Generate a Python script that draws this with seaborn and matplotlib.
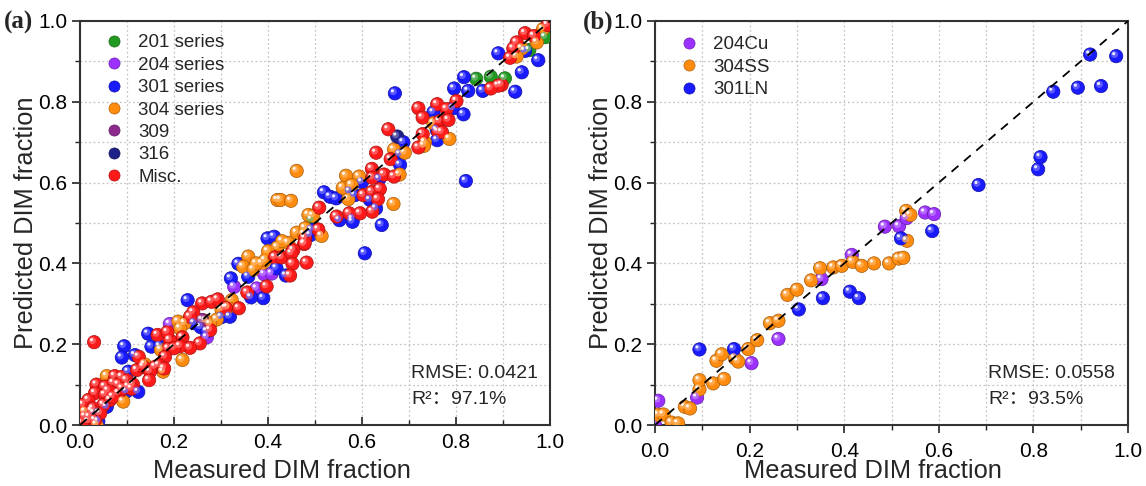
import numpy as np
import pandas as pd
import matplotlib
matplotlib.use("Agg")
import matplotlib.pyplot as plt
import matplotlib.transforms as mtransforms
from matplotlib.colors import to_rgb
from matplotlib.lines import Line2D
from matplotlib.ticker import MultipleLocator
import seaborn as sns

# ---------------- Panel (a) data ----------------
a201_x = [0.99, 0.956, 0.904, 0.874, 0.843, 0.493]
a201_y = [0.96, 0.928, 0.858, 0.862, 0.857, 0.508]

a204_x = [0.392, 0.408, 0.376, 0.328, 0.27, 0.191]
a204_y = [0.373, 0.375, 0.338, 0.342, 0.217, 0.25]

a301_x = [0.89, 0.947, 0.975, 0.94, 0.926, 0.857, 0.826, 0.817, 0.796, 0.67,
          0.752, 0.794, 0.816, 0.759, 0.688, 0.76, 0.681, 0.681, 0.637, 0.6,
          0.519, 0.532, 0.545, 0.574, 0.585, 0.617, 0.63, 0.58, 0.642, 0.58,
          0.552, 0.821, 0.606, 0.49, 0.493, 0.399, 0.413, 0.337, 0.358, 0.321,
          0.418, 0.438, 0.39, 0.364, 0.229, 0.243, 0.257, 0.27, 0.319, 0.301,
          0.145, 0.152, 0.17, 0.094, 0.089, 0.117, 0.103, 0.124, 0.099, 0.057,
          0.039]
a301_y = [0.92, 0.926, 0.903, 0.873, 0.825, 0.827, 0.827, 0.861, 0.833, 0.821,
          0.774, 0.784, 0.769, 0.73, 0.70, 0.705, 0.67, 0.644, 0.609, 0.601,
          0.576, 0.565, 0.561, 0.578, 0.569, 0.557, 0.536, 0.51, 0.495, 0.503,
          0.507, 0.604, 0.425, 0.47, 0.483, 0.462, 0.466, 0.399, 0.367, 0.363,
          0.388, 0.37, 0.314, 0.316, 0.309, 0.252, 0.242, 0.232, 0.268, 0.267,
          0.226, 0.194, 0.195, 0.195, 0.167, 0.173, 0.132, 0.082, 0.083, 0.045,
          0.009]

a304_x = [0.985, 0.972, 0.94, 0.929, 0.752, 0.734, 0.732, 0.786, 0.668, 0.691,
          0.68, 0.566, 0.594, 0.559, 0.578, 0.571, 0.667, 0.486, 0.496, 0.461,
          0.42, 0.427, 0.449, 0.514, 0.479, 0.461, 0.477, 0.42, 0.443, 0.358,
          0.347, 0.369, 0.387, 0.394, 0.375, 0.40, 0.43, 0.323, 0.314, 0.301,
          0.291, 0.277, 0.267, 0.209, 0.223, 0.213, 0.172, 0.218, 0.177, 0.138,
          0.057, 0.092, 0.011, 0.035]
a304_y = [0.98, 0.947, 0.932, 0.912, 0.747, 0.70, 0.691, 0.708, 0.682, 0.674,
          0.62, 0.617, 0.615, 0.587, 0.594, 0.559, 0.547, 0.52, 0.518, 0.629,
          0.557, 0.557, 0.555, 0.468, 0.487, 0.476, 0.473, 0.44, 0.451, 0.417,
          0.392, 0.385, 0.40, 0.408, 0.40, 0.43, 0.455, 0.309, 0.291, 0.286,
          0.261, 0.25, 0.258, 0.256, 0.252, 0.239, 0.186, 0.161, 0.132, 0.15,
          0.121, 0.058, 0.033, 0.001]

a309_x = [0.03, 0.26]
a309_y = [0.03, 0.26]

a316_x = [0.675, 0.04]
a316_y = [0.714, 0.03]

amisc_x = [0.995, 0.947, 0.966, 0.929, 0.922, 0.915, 0.897, 0.89, 0.874, 0.801,
           0.78, 0.76, 0.72, 0.729, 0.765, 0.784, 0.762, 0.77, 0.729, 0.656,
           0.72, 0.63, 0.661, 0.621, 0.647, 0.668, 0.622, 0.603, 0.621, 0.638,
           0.634, 0.622, 0.596, 0.573, 0.546, 0.509, 0.507, 0.479, 0.477, 0.482,
           0.478, 0.454, 0.415, 0.429, 0.45, 0.452, 0.447, 0.397, 0.356, 0.338,
           0.277, 0.26, 0.28, 0.293, 0.241, 0.234, 0.218, 0.255, 0.191, 0.234,
           0.213, 0.165, 0.186, 0.188, 0.20, 0.181, 0.168, 0.16, 0.179, 0.03,
           0.121, 0.135, 0.149, 0.147, 0.074, 0.089, 0.099, 0.071, 0.035, 0.053,
           0.082, 0.103, 0.113, 0.032, 0.053, 0.082, 0.064, 0.05, 0.018, 0.007,
           0.028, 0.043, 0.011, 0.018, 0.004, 0.032, 0.025, 0.31, 0.125, 0.07,
           0.09, 0.11, 0.06, 0.02]
amisc_y = [0.99, 0.97, 0.963, 0.947, 0.932, 0.909, 0.842, 0.84, 0.833, 0.802,
           0.782, 0.794, 0.784, 0.761, 0.752, 0.755, 0.726, 0.725, 0.72, 0.732,
           0.687, 0.674, 0.658, 0.634, 0.62, 0.615, 0.612, 0.569, 0.577, 0.584,
           0.559, 0.528, 0.524, 0.524, 0.516, 0.538, 0.484, 0.462, 0.448, 0.402,
           0.45, 0.433, 0.415, 0.415, 0.425, 0.399, 0.37, 0.343, 0.328, 0.289,
           0.235, 0.301, 0.305, 0.311, 0.279, 0.268, 0.217, 0.202, 0.21, 0.191,
           0.195, 0.223, 0.23, 0.189, 0.19, 0.169, 0.148, 0.144, 0.14, 0.205,
           0.136, 0.144, 0.132, 0.111, 0.121, 0.119, 0.111, 0.104, 0.10, 0.095,
           0.10, 0.095, 0.10, 0.079, 0.075, 0.079, 0.062, 0.05, 0.062, 0.05,
           0.041, 0.029, 0.021, 0.009, 0.005, 0.012, 0.035, 0.29, 0.169, 0.07,
           0.09, 0.09, 0.085, 0.02]

a_labels = ["201 series", "204 series", "301 series", "304 series", "309", "316", "Misc."]
a_colors = ["#229a22", "#9b30ff", "#1a1aff", "#ff8c0f", "#8e2a8e", "#1f1f88", "#ff1a1a"]

# ---------------- Panel (b) data ----------------
b204_x = [0.0, 0.007, 0.089, 0.204, 0.261, 0.352, 0.416, 0.486, 0.516, 0.532, 0.571, 0.59]
b204_y = [0.0, 0.06, 0.068, 0.153, 0.213, 0.361, 0.421, 0.491, 0.492, 0.512, 0.526, 0.522]

b304_x = [0.007, 0.018, 0.035, 0.049, 0.063, 0.074, 0.094, 0.094, 0.123, 0.146,
          0.13, 0.141, 0.169, 0.176, 0.197, 0.216, 0.243, 0.261, 0.28, 0.30,
          0.33, 0.349, 0.377, 0.395, 0.418, 0.437, 0.463, 0.495, 0.515, 0.525,
          0.533, 0.531, 0.54]
b304_y = [0.025, 0.026, 0.006, 0.004, 0.045, 0.041, 0.088, 0.111, 0.103, 0.114,
          0.159, 0.175, 0.165, 0.157, 0.188, 0.21, 0.252, 0.258, 0.322, 0.335,
          0.358, 0.388, 0.39, 0.394, 0.404, 0.394, 0.40, 0.40, 0.412, 0.414,
          0.456, 0.53, 0.52]

b301_x = [0.094, 0.167, 0.304, 0.355, 0.412, 0.431, 0.52, 0.586, 0.684, 0.81,
          0.815, 0.842, 0.894, 0.943, 0.92, 0.975]
b301_y = [0.187, 0.188, 0.286, 0.314, 0.33, 0.314, 0.462, 0.48, 0.594, 0.633,
          0.663, 0.825, 0.835, 0.839, 0.917, 0.913]

b_labels = ["204Cu", "304SS", "301LN"]
b_colors = ["#9b30ff", "#ff8c0f", "#1a1aff"]

a_metrics = ["RMSE: 0.0421", "R²：97.1%"]
b_metrics = ["RMSE: 0.0558", "R²：93.5%"]

# ---------------- Styling ----------------
sns.set_theme(style="white")
plt.rcParams["font.family"] = ["Liberation Sans", "Noto Sans CJK SC", "DejaVu Sans"]

W, H = 1146, 486
fig = plt.figure(figsize=(W / 100, H / 100), dpi=100)
axA = fig.add_axes([80 / W, 61 / H, 470 / W, 404 / H])
axB = fig.add_axes([655 / W, 61 / H, 473 / W, 404 / H])


def lighten(c, f):
    r, g, b = to_rgb(c)
    return (r + (1 - r) * f, g + (1 - g) * f, b + (1 - b) * f)


def darken(c, f):
    r, g, b = to_rgb(c)
    return (r * (1 - f), g * (1 - f), b * (1 - f))


def draw_panel(ax, xs, ys, labels, colors, xdir, metrics, leg_anchor, xlab_pos):
    frames = []
    for x, y, lab in zip(xs, ys, labels):
        frames.append(pd.DataFrame({"measured": x, "predicted": y, "series": lab}))
    df = pd.concat(frames, ignore_index=True)
    pal = dict(zip(labels, colors))
    sns.scatterplot(data=df, x="measured", y="predicted", hue="series",
                    hue_order=labels, palette=pal, s=92,
                    edgecolor=[darken(pal[s], 0.35) for s in df["series"]],
                    linewidth=0.5, legend=False, ax=ax, zorder=3)
    # sphere highlights
    t1 = mtransforms.offset_copy(ax.transData, fig=fig, x=-1.2, y=1.2, units="points")
    t2 = mtransforms.offset_copy(ax.transData, fig=fig, x=-1.8, y=1.8, units="points")
    ax.scatter(df["measured"], df["predicted"], s=26,
               c=[lighten(pal[s], 0.35) for s in df["series"]],
               edgecolors="none", transform=t1, zorder=3, alpha=0.8)
    ax.scatter(df["measured"], df["predicted"], s=5, c="white",
               edgecolors="none", transform=t2, zorder=3, alpha=0.9)

    ax.axline((0, 0), slope=1, color="black", linestyle=(0, (5, 4)),
              linewidth=1.3, zorder=4)

    ax.set_xlim(0, 1)
    ax.set_ylim(0, 1)
    for axis in (ax.xaxis, ax.yaxis):
        axis.set_major_locator(MultipleLocator(0.2))
        axis.set_minor_locator(MultipleLocator(0.1))
    ax.grid(which="both", linestyle=(0, (1.5, 2)), color="#c4c4c4", linewidth=0.9)
    ax.set_axisbelow(True)
    ax.tick_params(axis="x", which="both", direction=xdir, labelsize=15,
                   bottom=True, pad=6, colors="#222222", labelcolor="black")
    ax.tick_params(axis="y", which="both", direction="out", labelsize=15,
                   left=True, pad=3, colors="#222222", labelcolor="black")
    ax.tick_params(which="major", length=6, width=1.2)
    ax.tick_params(which="minor", length=3.5, width=1.0)
    for sp in ax.spines.values():
        sp.set_visible(True)
        sp.set_color("#333333")
        sp.set_linewidth(1.5)
    ax.set_xlabel("Measured DIM fraction", fontsize=18.3, labelpad=2)
    ax.xaxis.set_label_coords(xlab_pos, -0.085)
    ax.set_ylabel("Predicted DIM fraction", fontsize=18.3, labelpad=0)

    handles = [Line2D([], [], linestyle="none", marker="o", markersize=8,
                      markerfacecolor=c, markeredgecolor=darken(c, 0.3),
                      markeredgewidth=0.5) for c in colors]
    ax.legend(handles, labels, loc="upper left", bbox_to_anchor=leg_anchor,
              frameon=False, fontsize=13.5, handletextpad=0.6,
              labelspacing=0.28, borderaxespad=0.2, handlelength=1.4)

    ax.text(0.705, 0.128, metrics[0], transform=ax.transAxes, fontsize=14,
            va="center", ha="left")
    ax.text(0.705, 0.062, metrics[1], transform=ax.transAxes, fontsize=14,
            va="center", ha="left")


draw_panel(axA,
           [a201_x, a204_x, a301_x, a304_x, a309_x, a316_x, amisc_x],
           [a201_y, a204_y, a301_y, a304_y, a309_y, a316_y, amisc_y],
           a_labels, a_colors, "in", a_metrics, (0.02, 0.995), 0.43)
draw_panel(axB,
           [b204_x, b304_x, b301_x],
           [b204_y, b304_y, b301_y],
           b_labels, b_colors, "out", b_metrics, (0.02, 0.99), 0.46)

fig.text(4 / W, 1 - 22 / H, "(a)", fontsize=18, fontweight="bold",
         family="Liberation Serif", va="center", ha="left")
fig.text(583 / W, 1 - 22 / H, "(b)", fontsize=18, fontweight="bold",
         family="Liberation Serif", va="center", ha="left")

fig.savefig("out.png", dpi=100)
